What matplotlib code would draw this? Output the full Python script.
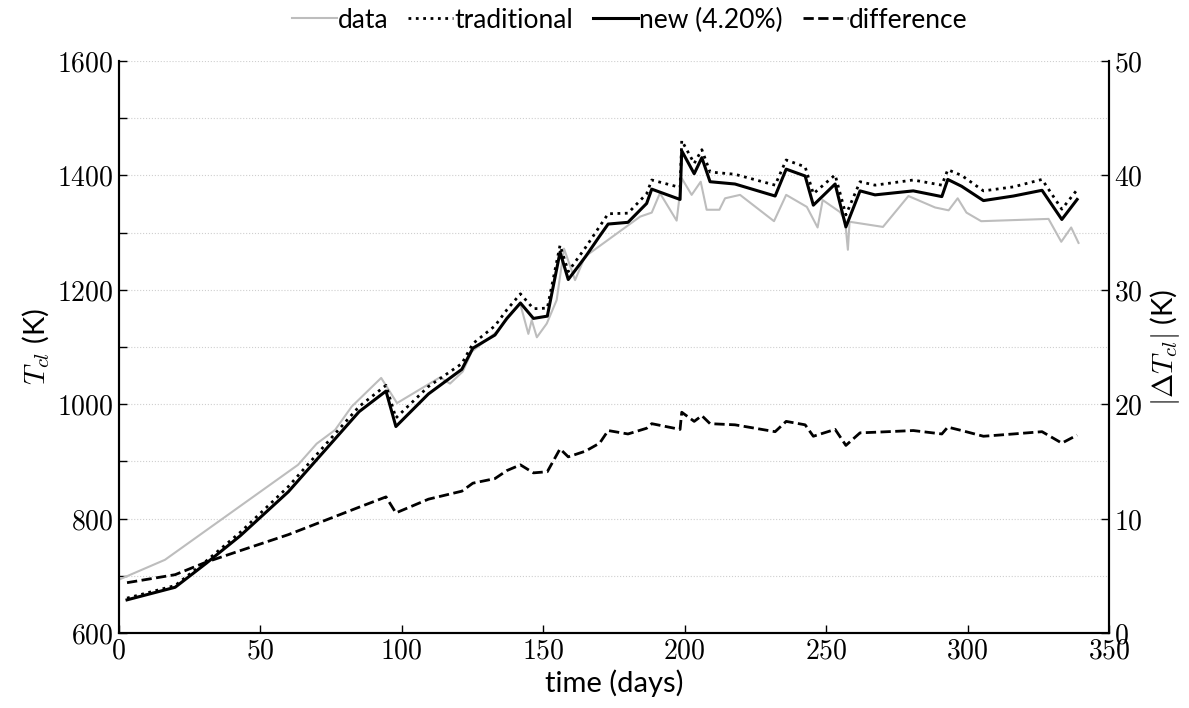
import matplotlib
matplotlib.use("Agg")
import matplotlib.pyplot as plt
from matplotlib.ticker import MultipleLocator, FuncFormatter

# measured data
t_data = [0, 16.4, 63.4, 70.0, 76.5, 82.4, 92.8, 98.4, 113.6, 117.1, 121.6, 124.8,
          133.5, 141.9, 144.8, 146.0, 147.8, 151.3, 154.8, 157.4, 161.3, 164.8,
          184.3, 188.4, 191.3, 197.2, 199.0, 202.5, 205.7, 207.8, 212.3, 214.3,
          219.6, 231.6, 235.9, 243.2, 247.0, 248.8, 254.9, 256.7, 257.7, 258.3,
          270.1, 279.1, 288.5, 293.3, 296.5, 299.6, 304.8, 328.6, 333.1, 336.6, 339.2]
T_data = [693, 728, 894, 931, 955, 996, 1046, 1002, 1047, 1036, 1057, 1092,
          1126, 1176, 1123, 1147, 1117, 1141, 1182, 1272, 1217, 1258,
          1328, 1335, 1369, 1321, 1395, 1366, 1389, 1340, 1340, 1360,
          1366, 1320, 1366, 1345, 1309, 1357, 1336, 1322, 1270, 1319,
          1310, 1364, 1344, 1339, 1360, 1335, 1320, 1324, 1284, 1309, 1282]

# model results
t_model = [3, 20, 31, 43, 60, 85, 94.5, 98, 109.5, 121.3, 125.2, 133, 137.2, 142,
           146.6, 151.5, 156, 158.9, 165, 170, 173, 180, 186.6, 188.4, 198.4, 199,
           203.4, 206.1, 209, 217.8, 232, 235.9, 242.6, 245.5, 253.2, 257, 262,
           267.3, 280.8, 290.9, 293, 297.9, 305.6, 316.2, 326.3, 333.3, 338.7]
T_new = [658, 680, 722, 770, 847, 987, 1023, 961, 1018, 1061, 1098, 1121, 1150, 1177,
         1150, 1154, 1266, 1218, 1258, 1294, 1315, 1318, 1351, 1376, 1358, 1443,
         1403, 1431, 1389, 1385, 1364, 1411, 1399, 1348, 1385, 1310, 1373,
         1366, 1373, 1363, 1393, 1381, 1356, 1364, 1374, 1323, 1358]
T_trad = [661, 683, 726, 776, 856, 996, 1033, 976, 1031, 1071, 1106, 1137, 1165, 1193,
          1167, 1168, 1278, 1232, 1274, 1311, 1333, 1334, 1368, 1392, 1379, 1461,
          1421, 1445, 1406, 1402, 1383, 1427, 1415, 1368, 1401, 1331, 1389,
          1383, 1392, 1383, 1410, 1400, 1373, 1380, 1393, 1341, 1375]
dT = [4.4, 5.1, 6.2, 7.2, 8.6, 11.0, 11.9, 10.5, 11.7, 12.4, 13.1, 13.5, 14.2, 14.7,
      14.0, 14.1, 16.1, 15.4, 15.9, 16.6, 17.7, 17.4, 17.9, 18.3, 17.8, 19.3,
      18.5, 19.0, 18.3, 18.2, 17.6, 18.5, 18.2, 17.2, 17.8, 16.4, 17.5,
      17.55, 17.7, 17.4, 18.0, 17.7, 17.2, 17.4, 17.6, 16.6, 17.3]

plt.rcParams['mathtext.fontset'] = 'cm'
plt.rcParams['font.family'] = ['Lato', 'DejaVu Sans']

fig = plt.figure(figsize=(11.89, 7.08), dpi=100)
ax = fig.add_axes([0.0997, 0.1059, 0.8331, 0.8079])
ax2 = ax.twinx()

l_data, = ax.plot(t_data, T_data, color='#bdbdbd', lw=1.5, label='data')
l_trad, = ax.plot(t_model, T_trad, color='black', lw=2.0, ls=':', label='traditional')
l_new, = ax.plot(t_model, T_new, color='black', lw=2.2, ls='-', label='new (4.20%)')
l_diff, = ax2.plot(t_model, dT, color='black', lw=2.0, ls='--', label='difference')

ax.set_xlim(0, 350)
ax.set_ylim(600, 1600)
ax2.set_ylim(0, 50)

fmt = FuncFormatter(lambda v, p: f"${v:g}$")
ax.xaxis.set_major_locator(MultipleLocator(50))
ax.yaxis.set_major_locator(MultipleLocator(200))
ax.yaxis.set_minor_locator(MultipleLocator(100))
ax2.yaxis.set_major_locator(MultipleLocator(10))
ax.xaxis.set_major_formatter(fmt)
ax.yaxis.set_major_formatter(fmt)
ax2.yaxis.set_major_formatter(fmt)

ax.tick_params(axis='both', which='both', direction='in', length=6, width=1, labelsize=20)
ax.tick_params(axis='x', which='minor', bottom=False)
ax2.tick_params(axis='y', which='both', direction='in', length=6, width=1, labelsize=20)

ax.grid(axis='y', which='both', linestyle=':', color='#cfcfcf', lw=0.8)
for a in (ax, ax2):
    a.spines['top'].set_visible(False)
    for sp in a.spines.values():
        sp.set_linewidth(1.5)

ax.set_xlabel('time (days)', fontsize=21)
ax.set_ylabel(r'$T_{cl}$ (K)', fontsize=21)
ax2.set_ylabel(r'$|\Delta T_{cl}|$ (K)', fontsize=21)

ax.legend(handles=[l_data, l_trad, l_new, l_diff], loc='center',
          bbox_to_anchor=(0.516, 1.0717), ncol=4, frameon=False, fontsize=19,
          handlelength=1.7, handletextpad=0.05, columnspacing=0.75, borderaxespad=0.0)

fig.savefig('out.png', dpi=100)
